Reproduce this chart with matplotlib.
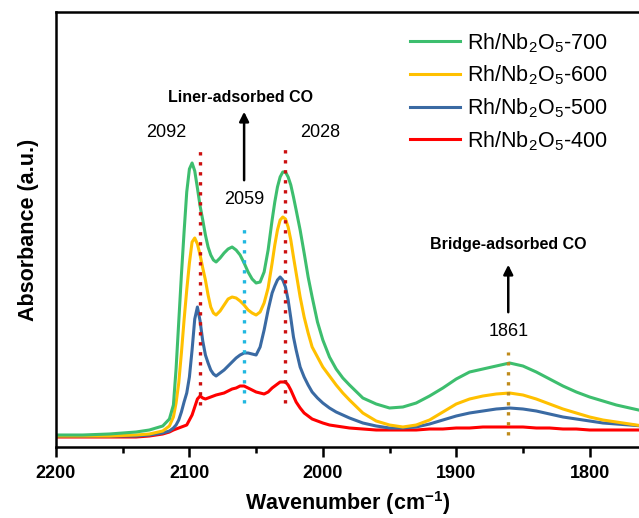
import matplotlib.pyplot as plt
from matplotlib.ticker import MultipleLocator

plt.rcParams['font.family'] = ['Liberation Sans', 'DejaVu Sans']
plt.rcParams['mathtext.default'] = 'regular'

# wavenumber grid (cm-1) shared by all spectra
wavenumber = [2200, 2180, 2160, 2140, 2130, 2120, 2115, 2112,
              2110, 2108, 2106, 2104, 2102, 2100, 2098, 2096, 2094, 2092,
              2090, 2088, 2086, 2084, 2082, 2080,
              2077, 2074, 2071, 2068, 2065, 2062, 2059, 2056, 2053, 2050,
              2047, 2044, 2041,
              2038, 2036, 2034, 2032, 2030, 2028, 2026, 2024, 2022, 2020,
              2017, 2014, 2011, 2008,
              2004, 2000, 1995, 1990, 1985, 1980,
              1970, 1960, 1950, 1940, 1930, 1920, 1910, 1900, 1890, 1880,
              1870, 1860, 1850, 1840, 1830, 1820, 1810, 1800, 1790, 1780,
              1770, 1760]

abs_700 = [0.12, 0.12, 0.13, 0.15, 0.17, 0.21, 0.28, 0.42,
           0.78, 1.25, 1.72, 2.15, 2.55, 2.78, 2.84, 2.76, 2.59, 2.41,
           2.27, 2.12, 2.00, 1.92, 1.87, 1.85,
           1.89, 1.94, 1.98, 2.00, 1.97, 1.92, 1.84, 1.75, 1.68, 1.64,
           1.65, 1.75, 1.97,
           2.27, 2.45, 2.60, 2.70, 2.75, 2.75, 2.70, 2.62, 2.50, 2.37,
           2.17, 1.94, 1.70, 1.50,
           1.25, 1.07, 0.90, 0.78, 0.69, 0.62,
           0.49, 0.43, 0.39, 0.40, 0.44, 0.51, 0.59, 0.68, 0.75, 0.78,
           0.81, 0.84, 0.81, 0.75, 0.68, 0.61, 0.55, 0.50, 0.46, 0.42,
           0.39, 0.36]

abs_600 = [0.11, 0.11, 0.11, 0.12, 0.13, 0.16, 0.21, 0.30,
           0.44, 0.64, 0.94, 1.27, 1.57, 1.84, 2.05, 2.09, 2.03, 1.92,
           1.79, 1.67, 1.52, 1.40, 1.34, 1.32,
           1.36, 1.42, 1.48, 1.50, 1.49, 1.46, 1.42, 1.37, 1.34, 1.32,
           1.35, 1.44, 1.59,
           1.84, 2.02, 2.17, 2.27, 2.30, 2.28, 2.20, 2.07, 1.90, 1.74,
           1.50, 1.30, 1.14, 1.00,
           0.90, 0.80, 0.71, 0.62, 0.54, 0.47,
           0.34, 0.26, 0.22, 0.20, 0.22, 0.27, 0.35, 0.43, 0.48, 0.51,
           0.53, 0.54, 0.52, 0.48, 0.43, 0.38, 0.34, 0.30, 0.27, 0.25,
           0.23, 0.21]

abs_500 = [0.11, 0.11, 0.11, 0.11, 0.12, 0.14, 0.16, 0.19,
           0.22, 0.27, 0.35, 0.45, 0.54, 0.70, 0.97, 1.28, 1.40, 1.26,
           1.06, 0.92, 0.84, 0.77, 0.73, 0.71,
           0.74, 0.77, 0.81, 0.85, 0.89, 0.92, 0.94, 0.94, 0.93, 0.92,
           1.00, 1.17, 1.37,
           1.54, 1.61, 1.67, 1.70, 1.67, 1.60, 1.47, 1.29, 1.10, 0.97,
           0.80, 0.70, 0.62, 0.55,
           0.49, 0.44, 0.39, 0.35, 0.32, 0.29,
           0.24, 0.21, 0.19, 0.19, 0.20, 0.23, 0.27, 0.31, 0.34, 0.36,
           0.38, 0.39, 0.38, 0.36, 0.33, 0.30, 0.28, 0.26, 0.24, 0.23,
           0.22, 0.21]

abs_400 = [0.10, 0.10, 0.10, 0.10, 0.11, 0.13, 0.15, 0.17,
           0.18, 0.19, 0.20, 0.21, 0.22, 0.27, 0.32, 0.40, 0.48, 0.51,
           0.49, 0.48, 0.49, 0.50, 0.51, 0.52,
           0.53, 0.54, 0.56, 0.58, 0.59, 0.61, 0.61, 0.59, 0.57, 0.55,
           0.54, 0.53, 0.55,
           0.59, 0.61, 0.63, 0.65, 0.65, 0.65, 0.62, 0.57, 0.51, 0.45,
           0.39, 0.34, 0.31, 0.28,
           0.26, 0.24, 0.22, 0.21, 0.20, 0.19,
           0.18, 0.17, 0.17, 0.17, 0.17, 0.18, 0.18, 0.19, 0.19, 0.20,
           0.20, 0.20, 0.20, 0.19, 0.19, 0.18, 0.18, 0.17, 0.17, 0.17,
           0.17, 0.17]

labels = ['Rh/Nb$_2$O$_5$-700', 'Rh/Nb$_2$O$_5$-600',
          'Rh/Nb$_2$O$_5$-500', 'Rh/Nb$_2$O$_5$-400']
colors = ['#3DBE6E', '#FFC000', '#3A6AA3', '#FF0000']

fig = plt.figure(figsize=(6.39, 5.18), dpi=100)
ax = fig.add_axes([56 / 639, 71 / 518, 1 - 56 / 639, 435 / 518])

series = [abs_700, abs_600, abs_500, abs_400]
handles = []
for ys, c, lab in zip(series[::-1], colors[::-1], labels[::-1]):
    h, = ax.plot(wavenumber, ys, color=c, lw=2.2, label=lab,
                 solid_joinstyle='round')
    handles.append(h)
handles = handles[::-1]

# marker lines for band positions
ax.vlines(2092, 0.42, 3.00, colors='#CC1010', linestyles=(0, (1, 2)), lw=2.4)
ax.vlines(2028, 0.44, 3.02, colors='#CC1010', linestyles=(0, (1, 2)), lw=2.4)
ax.vlines(2059, 0.44, 2.19, colors='#22B8E0', linestyles=(0, (1, 2)), lw=2.4)
ax.vlines(1861, 0.12, 0.95, colors='#BF8A1A', linestyles=(0, (1, 2)), lw=2.4)

ax.text(2117, 3.14, '2092', ha='center', va='center', fontsize=13)
ax.text(2002, 3.14, '2028', ha='center', va='center', fontsize=13)
ax.text(2059, 2.47, '2059', ha='center', va='center', fontsize=13)
ax.text(1861, 1.15, '1861', ha='center', va='center', fontsize=13)

ax.annotate('', xy=(2059, 3.38), xytext=(2059, 2.64),
            arrowprops=dict(arrowstyle='-|>', color='black', lw=1.8, mutation_scale=14))
ax.annotate('', xy=(1861, 1.85), xytext=(1861, 1.32),
            arrowprops=dict(arrowstyle='-|>', color='black', lw=1.8, mutation_scale=14))
ax.text(2062, 3.49, 'Liner-adsorbed CO', ha='center', va='center',
        fontsize=11.5, fontweight='bold')
ax.text(1861, 2.02, 'Bridge-adsorbed CO', ha='center', va='center',
        fontsize=11.5, fontweight='bold')

ax.set_xlim(2200, 1763)
ax.set_ylim(0, 4.35)
ax.xaxis.set_major_locator(MultipleLocator(100))
ax.xaxis.set_minor_locator(MultipleLocator(50))
ax.set_yticks([])
ax.tick_params(axis='x', which='major', direction='out', length=7, width=1.8,
               labelsize=13, pad=6)
ax.tick_params(axis='x', which='minor', direction='out', length=4.5, width=1.8)
for lab in ax.get_xticklabels():
    lab.set_fontweight('bold')
for s in ['left', 'bottom', 'top']:
    ax.spines[s].set_linewidth(1.8)
ax.spines['right'].set_visible(False)

ax.set_xlabel('Wavenumber (cm$^{-1}$)', fontsize=15.5, fontweight='bold', labelpad=5)
ax.set_ylabel('Absorbance (a.u.)', fontsize=15.5, fontweight='bold', labelpad=12)

ax.legend(handles=handles, loc='upper left',
          bbox_to_anchor=(410 / 639, 1 - 31 / 518), bbox_transform=fig.transFigure,
          frameon=False, fontsize=15.5, handlelength=2.3, handletextpad=0.37,
          labelspacing=0.42, borderaxespad=0, borderpad=0)

plt.savefig('out.png', dpi=100)
plt.close()
